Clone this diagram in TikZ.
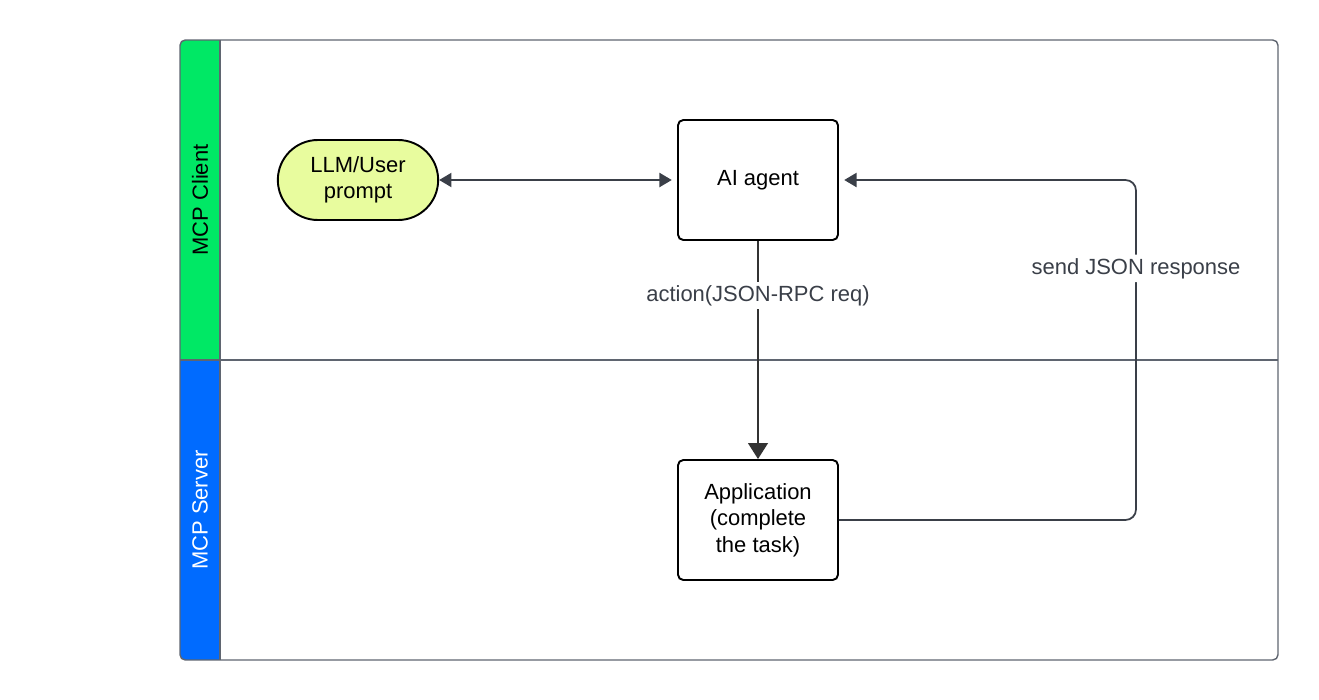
\documentclass[tikz,border=0pt]{standalone}
\usepackage{fontspec}
\setmainfont{Liberation Sans}
\usetikzlibrary{arrows.meta,positioning,shapes.misc}
\definecolor{clientgreen}{HTML}{00E865}
\definecolor{serverblue}{HTML}{006BFF}
\definecolor{promptfill}{HTML}{E8FC9E}
\definecolor{edgegray}{HTML}{3A3F48}
\definecolor{framegray}{HTML}{5F6570}
\begin{document}
\begin{tikzpicture}[x=0.02cm,y=-0.02cm,>={Triangle[length=7pt,width=8pt]},
  every node/.style={font=\fontsize{12.5}{15}\selectfont},
  taskbox/.style={draw,line width=1.1pt,rounded corners=3pt,fill=white,minimum width=3.2cm,minimum height=2.4cm,align=center},
  link/.style={draw=edgegray,line width=1pt}]
\useasboundingbox (0,0) rectangle (1319,700);
% lanes
\begin{scope}
\clip[rounded corners=3pt] (180,40) rectangle (1278,660);
\fill[clientgreen] (180,40) rectangle (220,360);
\fill[serverblue] (180,360) rectangle (220,660);
\end{scope}
\draw[framegray,line width=0.7pt] (180,360) -- (1278,360);
\draw[framegray,line width=0.7pt] (220,40) -- (220,660);
\draw[framegray,line width=0.8pt,rounded corners=3pt] (180,40) rectangle (1278,660);
\node[rotate=90] (clientlbl) at (200,200) {MCP Client};
\node[rotate=90,text=white] (serverlbl) at (200,510) {MCP Server};
% nodes
\node[draw,rounded rectangle,line width=1.1pt,fill=promptfill,minimum width=3.2cm,minimum height=1.6cm,inner xsep=0.5cm,align=center] (prompt) at (358,180) {LLM/User\\prompt};
\node[taskbox] (agent) at (758,180) {AI agent};
\node[taskbox] (app) at (758,520) {Application\\(complete\\the task)};
% connectors
\draw[link,<->] (prompt) -- ([xshift=-3pt]agent.west);
\draw[link,->,line width=1.5pt,draw=black!80,>={Triangle[length=9pt,width=11pt]}] (agent) -- node[pos=0.25,fill=white,inner sep=2pt,text=edgegray] {action(JSON-RPC req)} (app);
\coordinate (turn) at (1136,520);
\draw[link,->,rounded corners=6pt] (app.east) -- (turn) -- node[pos=0.74,fill=white,inner sep=2pt,text=edgegray] {send JSON response} (turn |- agent.east) -- ([xshift=3pt]agent.east);
\end{tikzpicture}
\end{document}
